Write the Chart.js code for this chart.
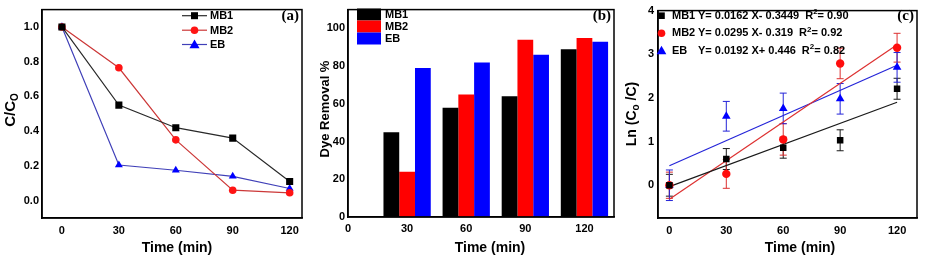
<!DOCTYPE html>
<html>
<head>
<meta charset="utf-8">
<script src="https://cdn.jsdelivr.net/npm/chart.js@4.4.1/dist/chart.umd.min.js"></script>
<style>
  body { margin: 0; background: #fff; }
  #wrap { position: relative; width: 926px; height: 259px; overflow: hidden; }
  canvas { position: absolute; top: 0; }
</style>
</head>
<body>
<div id="wrap">
  <canvas id="chartA" width="310" height="259" style="left:0px"></canvas>
  <canvas id="chartB" width="310" height="259" style="left:310px"></canvas>
  <canvas id="chartC" width="306" height="259" style="left:620px"></canvas>
</div>
<script>
// shared x values (min)
const tempos = [0, 30, 60, 90, 120];
const ticksTempo = [0, 30, 60, 90, 120];

// (a) C/Co
const ccoMB1 = [1.0, 0.55, 0.42, 0.36, 0.11];
const ccoMB2 = [1.0, 0.765, 0.35, 0.06, 0.045];
const ccoEB  = [1.0, 0.205, 0.175, 0.14, 0.07];
const ticksA = [0, 0.2, 0.4, 0.6, 0.8, 1.0];

// (b) Dye removal %
const temposBarra = [30, 60, 90, 120];
const remMB1 = [45, 58, 64, 89];
const remMB2 = [24, 65, 94, 95];
const remEB  = [79, 82, 86, 93];
const ticksB = [0, 20, 40, 60, 80, 100];

// (c) Ln(Co/C)
const lnMB1 = [0.0, 0.60, 0.86, 1.03, 2.21];
const lnMB2 = [0.0, 0.26, 1.05, 2.79, 3.15];
const lnEB  = [0.0, 1.58, 1.76, 1.98, 2.70];
const errMB1 = [0.25, 0.24, 0.24, 0.24, 0.24];
const errMB2 = [0.30, 0.33, 0.36, 0.35, 0.33];
const errEB  = [0.35, 0.34, 0.35, 0.35, 0.34];
const ajusteX = [0, 120];
const ajusteMB1 = [-0.03, 1.90];
const ajusteMB2 = [-0.32, 3.22];
const ajusteEB  = [0.446, 2.75];
const ticksC = [0, 1, 2, 3, 4];
const legendaC = [
  { nome: 'MB1', eq: 'Y= 0.0162 X- 0.3449', r2: '= 0.90' },
  { nome: 'MB2', eq: 'Y= 0.0295 X- 0.319', r2: '= 0.92' },
  { nome: 'EB',  eq: 'Y= 0.0192 X+ 0.446', r2: '= 0.82' }
];

const FONTE = '"Liberation Sans", Arial, sans-serif';
const pares = (xs, ys) => xs.map((x, i) => ({ x: x, y: ys[i] }));

// fixes the plot area size inside each canvas
function eixoX(min, max, altura, ticks, fmt, pad) {
  return {
    type: 'linear', min: min, max: max,
    afterFit: s => { s.height = altura; },
    afterBuildTicks: s => { s.ticks = ticks.map(v => ({ value: v })); },
    grid: { drawOnChartArea: false, drawTicks: false },
    border: { color: '#000', width: 1.5 },
    ticks: { color: '#000', padding: pad, font: { family: FONTE, size: 11, weight: 'bold' }, callback: fmt }
  };
}
function eixoY(min, max, largura, ticks, fmt, pad) {
  return {
    type: 'linear', min: min, max: max,
    afterFit: s => { s.width = largura; },
    afterBuildTicks: s => { s.ticks = ticks.map(v => ({ value: v })); },
    grid: { drawOnChartArea: false, drawTicks: false },
    border: { color: '#000', width: 1.5 },
    ticks: { color: '#000', padding: pad, font: { family: FONTE, size: 11, weight: 'bold' }, callback: fmt }
  };
}

// box, titles, legend
function moldura(cfg) {
  return {
    id: 'moldura',
    afterDraw(chart) {
      const ctx = chart.ctx, a = chart.chartArea;
      ctx.save();
      ctx.strokeStyle = '#000';
      ctx.lineWidth = 1.5;
      ctx.strokeRect(a.left, a.top, a.right - a.left, a.bottom - a.top);
      // x title
      ctx.fillStyle = '#000';
      ctx.font = 'bold 14px ' + FONTE;
      ctx.textAlign = 'center';
      ctx.textBaseline = 'middle';
      ctx.fillText('Time (min)', cfg.tituloX[0], cfg.tituloX[1]);
      // y title (rotated, with optional subscript parts)
      ctx.save();
      ctx.translate(cfg.tituloY.x, cfg.tituloY.y);
      ctx.rotate(-Math.PI / 2);
      let w = 0;
      cfg.tituloY.partes.forEach(p => { ctx.font = 'bold ' + p.t + 'px ' + FONTE; w += ctx.measureText(p.s).width; });
      let cx = -w / 2;
      ctx.textAlign = 'left';
      cfg.tituloY.partes.forEach(p => {
        ctx.font = 'bold ' + p.t + 'px ' + FONTE;
        ctx.fillText(p.s, cx, p.dy || 0);
        cx += ctx.measureText(p.s).width;
      });
      ctx.restore();
      // panel letter
      ctx.font = 'bold 15px "Liberation Serif", "Times New Roman", serif';
      ctx.textAlign = 'right';
      ctx.fillText(cfg.letra, a.right - 3, 16);
      if (cfg.legenda) cfg.legenda(ctx, a);
      ctx.restore();
    }
  };
}

function marcador(ctx, tipo, x, y, r, cor) {
  ctx.fillStyle = cor;
  ctx.beginPath();
  if (tipo === 'rect') ctx.rect(x - r, y - r, 2 * r, 2 * r);
  else if (tipo === 'circle') ctx.arc(x, y, r, 0, Math.PI * 2);
  else { ctx.moveTo(x, y - r * 1.1); ctx.lineTo(x + r * 1.1, y + r * 0.8); ctx.lineTo(x - r * 1.1, y + r * 0.8); ctx.closePath(); }
  ctx.fill();
}

// ---------- (a) ----------
const seriesA = [
  { label: 'MB1', d: ccoMB1, linha: '#2a2a2a', cor: '#000000', estilo: 'rect', r: 5 },
  { label: 'MB2', d: ccoMB2, linha: '#cc3838', cor: '#ff1414', estilo: 'circle', r: 3.8 },
  { label: 'EB',  d: ccoEB,  linha: '#4040b8', cor: '#0000ff', estilo: 'triangle', r: 4.6 }
];
new Chart(document.getElementById('chartA'), {
  type: 'line',
  data: {
    datasets: seriesA.map(s => ({
      label: s.label, data: pares(tempos, s.d),
      borderColor: s.linha, borderWidth: 1.2, backgroundColor: s.cor,
      pointStyle: s.estilo, pointRadius: s.r, pointBorderWidth: 0, pointBackgroundColor: s.cor
    }))
  },
  options: {
    responsive: false, animation: false,
    layout: { padding: { top: 4, right: 8 } },
    plugins: { legend: { display: false }, tooltip: { enabled: false } },
    scales: {
      x: eixoX(-10.5, 126.5, 41, ticksTempo, v => v, 6),
      y: eixoY(-0.1, 1.1, 42, ticksA, v => v.toFixed(1), 3)
    }
  },
  plugins: [moldura({
    letra: '(a)', tituloX: [177, 248],
    tituloY: { x: 11, y: 110, partes: [{ s: 'C/C', t: 15 }, { s: 'O', t: 10, dy: 4 }] },
    legenda(ctx, a) {
      const ys = [15.7, 30.2, 44.5];
      seriesA.forEach((s, i) => {
        ctx.strokeStyle = s.linha; ctx.lineWidth = 1.2;
        ctx.beginPath(); ctx.moveTo(182, ys[i]); ctx.lineTo(207, ys[i]); ctx.stroke();
        marcador(ctx, s.estilo, 194.5, ys[i], s.estilo === 'rect' ? 3.5 : s.r, s.cor);
        ctx.fillStyle = '#000'; ctx.font = 'bold 11px ' + FONTE; ctx.textAlign = 'left'; ctx.textBaseline = 'middle';
        ctx.fillText(s.label, 210, ys[i] + 0.5);
      });
    }
  })]
});

// ---------- (b) ----------
const seriesB = [
  { label: 'MB1', d: remMB1, cor: '#000000' },
  { label: 'MB2', d: remMB2, cor: '#ff0000' },
  { label: 'EB',  d: remEB,  cor: '#0000ff' }
];
new Chart(document.getElementById('chartB'), {
  type: 'bar',
  data: {
    datasets: seriesB.map(s => ({
      label: s.label, data: pares(temposBarra, s.d),
      backgroundColor: s.cor, borderWidth: 0,
      categoryPercentage: 0.8, barPercentage: 1.0
    }))
  },
  options: {
    responsive: false, animation: false,
    layout: { padding: { top: 5, right: 6 } },
    plugins: { legend: { display: false }, tooltip: { enabled: false } },
    scales: {
      x: Object.assign(eixoX(0, 135, 42, ticksTempo, v => v, 5), { offset: false }),
      y: eixoY(0, 110, 38, ticksB, v => v, 3)
    }
  },
  plugins: [moldura({
    letra: '(b)', tituloX: [180, 248],
    tituloY: { x: 15, y: 109, partes: [{ s: 'Dye Removal %', t: 13 }] },
    legenda(ctx, a) {
      const ys = [8.5, 20.5, 32.5];
      seriesB.forEach((s, i) => {
        ctx.fillStyle = s.cor;
        ctx.fillRect(47, ys[i], 24, 12);
        ctx.fillStyle = '#000'; ctx.font = 'bold 11px ' + FONTE; ctx.textAlign = 'left'; ctx.textBaseline = 'middle';
        ctx.fillText(s.label, 75, ys[i] + 6.5);
      });
    }
  })]
});

// ---------- (c) ----------
const seriesC = [
  { label: 'MB1', d: lnMB1, e: errMB1, aj: ajusteMB1, cor: '#000000', linha: '#1a1a1a', estilo: 'rect', r: 4.6 },
  { label: 'MB2', d: lnMB2, e: errMB2, aj: ajusteMB2, cor: '#ff0d0d', linha: '#dd3030', estilo: 'circle', r: 4.2 },
  { label: 'EB',  d: lnEB,  e: errEB,  aj: ajusteEB,  cor: '#0000ff', linha: '#2424d8', estilo: 'triangle', r: 5 }
];
const barrasErro = {
  id: 'barrasErro',
  beforeDatasetsDraw(chart) {
    const ctx = chart.ctx, sx = chart.scales.x, sy = chart.scales.y;
    ctx.save();
    seriesC.forEach(s => {
      ctx.strokeStyle = s.linha; ctx.lineWidth = 1;
      tempos.forEach((t, i) => {
        const px = sx.getPixelForValue(t);
        const p1 = sy.getPixelForValue(s.d[i] + s.e[i]);
        const p2 = sy.getPixelForValue(s.d[i] - s.e[i]);
        ctx.beginPath();
        ctx.moveTo(px, p1); ctx.lineTo(px, p2);
        ctx.moveTo(px - 3.5, p1); ctx.lineTo(px + 3.5, p1);
        ctx.moveTo(px - 3.5, p2); ctx.lineTo(px + 3.5, p2);
        ctx.stroke();
      });
    });
    ctx.restore();
  }
};
const dsC = [];
seriesC.forEach(s => {
  dsC.push({
    type: 'line', label: s.label + ' fit', data: pares(ajusteX, s.aj),
    borderColor: s.linha, borderWidth: 1.2, pointRadius: 0, order: 2
  });
});
seriesC.forEach(s => {
  dsC.push({
    type: 'scatter', label: s.label, data: pares(tempos, s.d),
    backgroundColor: s.cor, pointStyle: s.estilo, pointRadius: s.r, pointBorderWidth: 0, order: 1
  });
});
new Chart(document.getElementById('chartC'), {
  type: 'scatter',
  data: { datasets: dsC },
  options: {
    responsive: false, animation: false,
    layout: { padding: { top: 4, right: 9 } },
    plugins: { legend: { display: false }, tooltip: { enabled: false } },
    scales: {
      x: eixoX(-6, 130.5, 41, ticksTempo, v => v, 6),
      y: eixoY(-0.75, 4, 38, ticksC, v => v, 4)
    }
  },
  plugins: [barrasErro, moldura({
    letra: '(c)', tituloX: [180, 248],
    tituloY: { x: 12, y: 114, partes: [{ s: 'Ln (C', t: 14 }, { s: 'o', t: 10, dy: 4 }, { s: ' /C)', t: 14 }] },
    legenda(ctx, a) {
      const ys = [15.7, 33.3, 50.7];
      ctx.textBaseline = 'middle'; ctx.textAlign = 'left';
      seriesC.forEach((s, i) => {
        marcador(ctx, s.estilo, 41.5, ys[i], s.estilo === 'rect' ? 3.3 : (s.estilo === 'circle' ? 3.8 : 4.4), s.cor);
        ctx.fillStyle = '#000';
        ctx.font = 'bold 11px ' + FONTE;
        ctx.fillText(s.label, 52, ys[i]);
        const eq = legendaC[i];
        let x = 78;
        ctx.fillText(eq.eq, x, ys[i]);
        x += ctx.measureText(eq.eq).width + 6;
        ctx.fillText('R', x, ys[i]);
        x += ctx.measureText('R').width;
        ctx.font = 'bold 8px ' + FONTE;
        ctx.fillText('2', x, ys[i] - 4);
        x += ctx.measureText('2').width;
        ctx.font = 'bold 11px ' + FONTE;
        ctx.fillText(eq.r2, x, ys[i]);
      });
    }
  })]
});
</script>
</body>
</html>
